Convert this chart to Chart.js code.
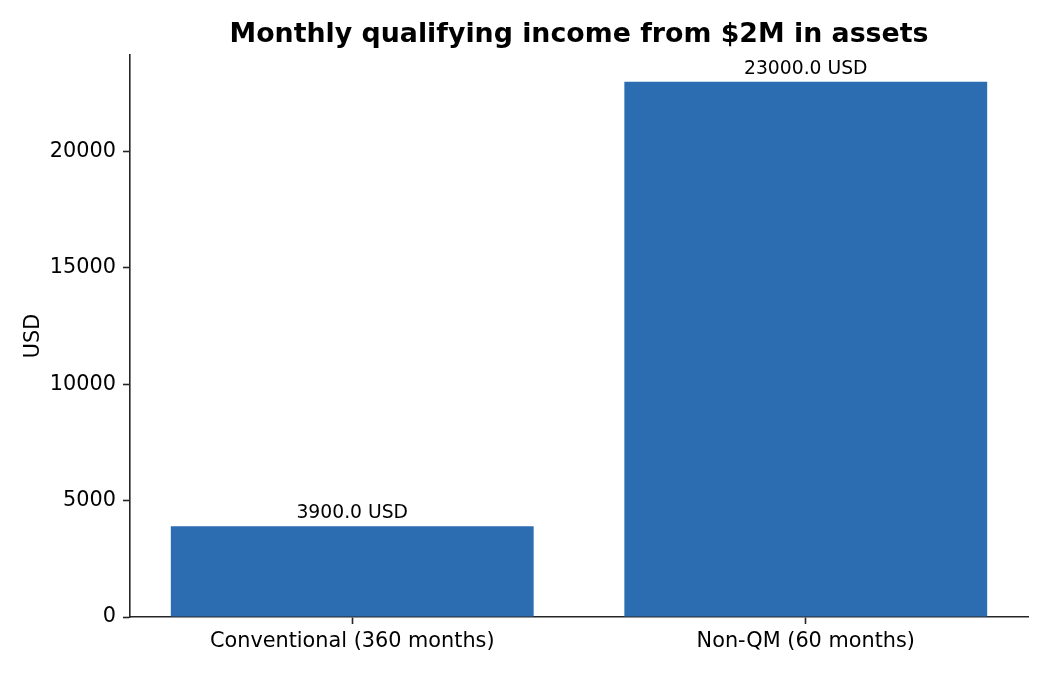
<!DOCTYPE html>
<html>
<head>
<meta charset="utf-8">
<script src="https://cdn.jsdelivr.net/npm/chart.js@4"></script>
<style>
html,body{margin:0;padding:0;background:#fff;}
#wrap{width:1050px;height:675px;position:relative;}
</style>
</head>
<body>
<div id="wrap"><canvas id="c"></canvas></div>
<script>
const categories = ["Conventional (360 months)", "Non-QM (60 months)"];
const incomeUSD = [3900, 23000];
const yTicks = [0, 5000, 10000, 15000, 20000];
const chartTitle = "Monthly qualifying income from $2M in assets";
const yLabel = "USD";

const FONT = "'DejaVu Sans', sans-serif";
const INK = "#262626";

const extras = {
  id: 'extras',
  afterDraw(chart) {
    const ctx = chart.ctx;
    const ca = chart.chartArea;
    ctx.save();
    // title
    ctx.fillStyle = '#000';
    ctx.font = "bold 26.8px " + FONT;
    ctx.textAlign = 'center';
    ctx.textBaseline = 'alphabetic';
    ctx.fillText(chartTitle, (ca.left + ca.right) / 2, 42);
    // y label
    ctx.save();
    ctx.translate(39, (ca.top + ca.bottom) / 2);
    ctx.rotate(-Math.PI / 2);
    ctx.font = "20.8px " + FONT;
    ctx.textAlign = 'center';
    ctx.textBaseline = 'alphabetic';
    ctx.fillText(yLabel, 0, 0);
    ctx.restore();
    // data labels
    const meta = chart.getDatasetMeta(0);
    ctx.font = "18.75px " + FONT;
    ctx.textAlign = 'center';
    ctx.textBaseline = 'alphabetic';
    meta.data.forEach((bar, i) => {
      const v = chart.data.datasets[0].data[i].y;
      ctx.fillText(v.toFixed(1) + " USD", bar.x, bar.y - 8);
    });
    ctx.restore();
  }
};

new Chart(document.getElementById('c'), {
  type: 'bar',
  data: {
    datasets: [{
      data: incomeUSD.map((v, i) => ({ x: i, y: v })),
      backgroundColor: '#2c6cb0',
      borderWidth: 0,
      categoryPercentage: 1.0,
      barPercentage: 0.8
    }]
  },
  options: {
    responsive: true,
    maintainAspectRatio: false,
    animation: false,
    devicePixelRatio: 1,
    layout: { padding: { left: 0, right: 22, top: 55, bottom: 0 } },
    plugins: { legend: { display: false }, title: { display: false }, tooltip: { enabled: false } },
    scales: {
      x: {
        type: 'linear',
        offset: false,
        min: -0.49,
        max: 1.49,
        afterBuildTicks(scale) { scale.ticks = categories.map((_, i) => ({ value: i })); },
        afterFit(scale) { scale.height = 58; },
        ticks: {
          callback: (v) => categories[v] ?? '',
          font: { family: FONT, size: 20.8 },
          color: '#000',
          padding: 5,
          maxRotation: 0,
          autoSkip: false
        },
        grid: { offset: false, drawOnChartArea: false, tickLength: 7, tickWidth: 1.6, tickColor: INK },
        border: { display: true, color: INK, width: 1.6 }
      },
      y: {
        min: 0,
        max: 24150,
        afterBuildTicks(scale) { scale.ticks = yTicks.map(v => ({ value: v })); },
        afterFit(scale) { scale.width = 130; },
        ticks: {
          font: { family: FONT, size: 20.8 },
          color: '#000',
          padding: 7,
          callback: (v) => String(v)
        },
        grid: { drawOnChartArea: false, tickLength: 7, tickWidth: 1.6, tickColor: INK },
        border: { display: true, color: INK, width: 1.6 }
      }
    }
  },
  plugins: [extras]
});
</script>
</body>
</html>
